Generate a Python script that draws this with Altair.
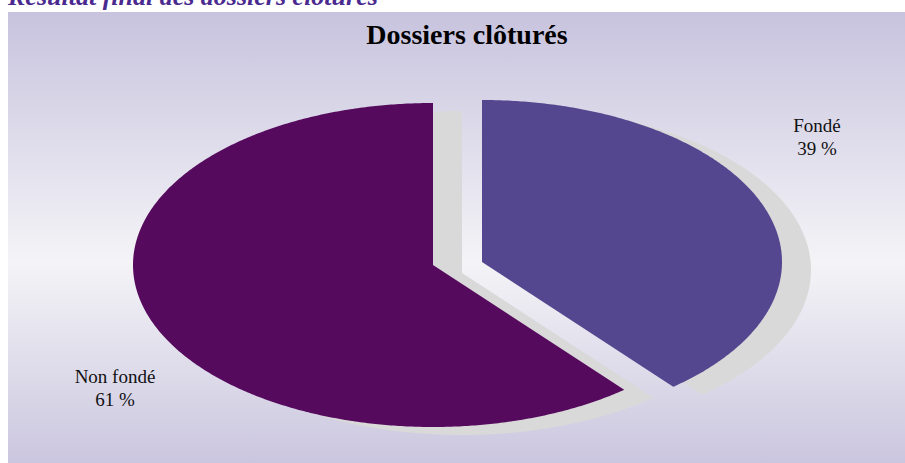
import numpy as np
import pandas as pd
import altair as alt

# ---- data ----
categories = ["Fondé", "Non fondé"]
values = [39, 61]
pct_text = ["39 %", "61 %"]
chart_title = "Dossiers clôturés"
page_heading = "Résultat final des dossiers clôturés"

# ---- layout / style ----
W, H = 905, 463
CX, CY, RX, RY = 433, 265, 300, 162
EXPLODE = {"Fondé": (49, -3), "Non fondé": (0, 0)}
SHADOW_DX, SHADOW_DY = 29, 8
slice_colors = ["#54478F", "#560A5E"]

# build elliptical pie polygons from the values
rows = []
total = float(sum(values))
start = 0.0
for cat, v in zip(categories, values):
    end = start + 360.0 * v / total
    dx, dy = EXPLODE[cat]
    angles = np.linspace(start, end, max(int((end - start) * 2), 4))
    pts = [(CX + dx, CY + dy)] + [
        (CX + dx + RX * np.sin(np.radians(a)), CY + dy - RY * np.cos(np.radians(a)))
        for a in angles
    ]
    for i, (x, y) in enumerate(pts):
        rows.append({"cat": cat, "idx": i, "x": x, "y": y})
    start = end
df = pd.DataFrame(rows)

xs = alt.Scale(domain=[0, W], nice=False, zero=False)
ys = alt.Scale(domain=[0, H], reverse=True, nice=False, zero=False)

bg = alt.Chart(pd.DataFrame({"a": [0]})).mark_rect(
    color=alt.Gradient(
        gradient="linear",
        stops=[
            alt.GradientStop(color="#C8C3DE", offset=0),
            alt.GradientStop(color="#F4F4F7", offset=0.555),
            alt.GradientStop(color="#CBC6DF", offset=1),
        ],
        x1=0, x2=0, y1=0, y2=1,
    )
).encode(x=alt.value(8), x2=alt.value(W), y=alt.value(12), y2=alt.value(H))

base = alt.Chart(df)

shadow = base.transform_calculate(
    sx=f"datum.x + {SHADOW_DX}", sy=f"datum.y + {SHADOW_DY}"
).mark_line(
    interpolate="linear-closed", filled=True, color="#D9D9D9"
).encode(
    x=alt.X("sx:Q", scale=xs, axis=None),
    y=alt.Y("sy:Q", scale=ys, axis=None),
    detail="cat:N",
    order=alt.Order("idx:Q"),
)

slices = base.mark_line(interpolate="linear-closed", filled=True).encode(
    x=alt.X("x:Q", scale=xs, axis=None),
    y=alt.Y("y:Q", scale=ys, axis=None),
    color=alt.Color("cat:N", scale=alt.Scale(domain=categories, range=slice_colors), legend=None),
    detail="cat:N",
    order=alt.Order("idx:Q"),
)

def txt(s, x, y, **kw):
    return alt.Chart(pd.DataFrame({"t": [s]})).mark_text(**kw).encode(
        text="t:N", x=alt.value(x), y=alt.value(y)
    )

heading = txt(page_heading, 8, 5, align="left", baseline="alphabetic",
              font="Liberation Serif", fontSize=26, fontWeight="bold",
              fontStyle="italic", color="#4B2A90")
title = txt(chart_title, 467, 44, align="center", baseline="alphabetic",
            font="Liberation Serif", fontSize=28, fontWeight="bold", color="#000000")
lab_f = txt(f"{categories[0]}\n{pct_text[0]}", 817, 132, align="center",
            baseline="alphabetic", lineBreak="\n", lineHeight=23,
            font="Liberation Serif", fontSize=19, color="#111111")
lab_n = txt(f"{categories[1]}\n{pct_text[1]}", 115, 383, align="center",
            baseline="alphabetic", lineBreak="\n", lineHeight=23,
            font="Liberation Serif", fontSize=19, color="#111111")

chart = alt.layer(bg, shadow, slices, heading, title, lab_f, lab_n).properties(
    width=W, height=H, padding=0, autosize=alt.AutoSizeParams(type="none"),
    background="#FFFFFF",
).configure_view(stroke=None)

chart.save("out.html", embed_options={"renderer": "svg", "actions": False})
